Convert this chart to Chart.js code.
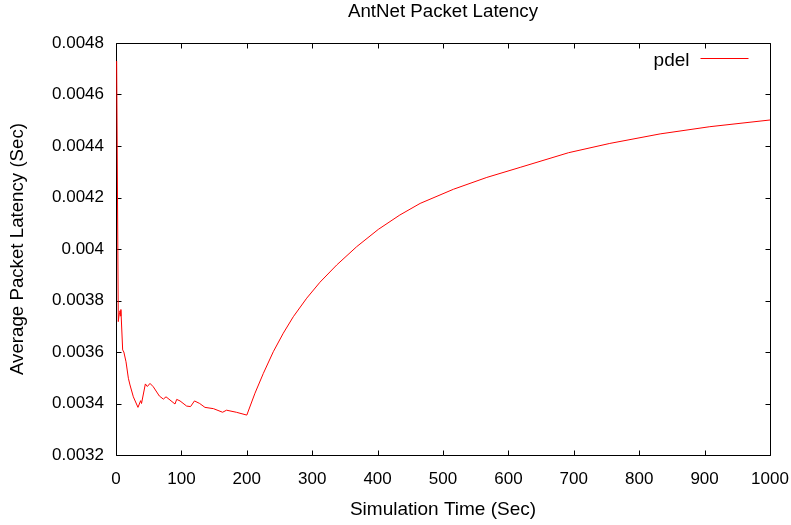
<!DOCTYPE html>
<html>
<head>
<meta charset="utf-8">
<title>AntNet Packet Latency</title>
<script src="https://cdn.jsdelivr.net/npm/chart.js@4/dist/chart.umd.min.js"></script>
<style>
  body { margin: 0; background: #fff; }
  canvas { display: block; }
</style>
</head>
<body>
<canvas id="graficoLatencia" width="791" height="525"></canvas>
<script>
// simulation time (sec) and average latency (sec)
const tempos = [1, 3.5, 5, 6.1, 6.6, 7.5, 10.2, 12, 15.3, 18.9, 21.4, 26.5, 33.6, 37.7, 39, 44.9, 47.9, 52, 57,
    66.3, 72.4, 76.5, 90.2, 92.8, 97.9, 108, 114, 120, 128, 136, 149, 163, 169, 184, 200, 212.5, 225.3, 240.5,
    255.8, 271.1, 291.6, 311.9, 337.5, 368, 401, 434, 465, 516, 567, 618, 692, 755, 832, 908, 1000];
const latencias = [0.00473, 0.003718, 0.00375, 0.00376, 0.00374, 0.003765, 0.003608, 0.0036, 0.003562, 0.003498,
    0.003472, 0.003426, 0.003385, 0.003411, 0.0034, 0.003476, 0.003466, 0.003478, 0.003465, 0.003429, 0.003417,
    0.003426, 0.003398, 0.003416, 0.00341, 0.00339, 0.003388, 0.00341, 0.0034, 0.003385, 0.00338, 0.003366,
    0.003374, 0.003366, 0.003355, 0.00344, 0.003517, 0.003601, 0.003673, 0.003737, 0.003809, 0.003871, 0.003938,
    0.004009, 0.004076, 0.004132, 0.004177, 0.004232, 0.004278, 0.004317, 0.004374, 0.00441, 0.004447, 0.004475,
    0.004501];

const xTicks = [0, 100, 200, 300, 400, 500, 600, 700, 800, 900, 1000];
const yTicks = [0.0032, 0.0034, 0.0036, 0.0038, 0.004, 0.0042, 0.0044, 0.0046, 0.0048];

const fonte = "'Liberation Sans', Arial, Helvetica, sans-serif";
Chart.defaults.color = '#000';
Chart.defaults.font.family = fonte;

// gnuplot style box with inward ticks on all four sides (under the data)
const moldura = {
    id: 'moldura',
    beforeDatasetsDraw(chart) {
        const ctx = chart.ctx;
        const a = chart.chartArea;
        const x = chart.scales.x;
        const y = chart.scales.y;
        const L = Math.round(a.left) + 0.5, R = Math.round(a.right) + 0.5;
        const T = Math.round(a.top) + 0.5, B = Math.round(a.bottom) + 0.5;
        const tam = 5;
        ctx.save();
        ctx.strokeStyle = '#000';
        ctx.lineWidth = 1;
        ctx.beginPath();
        ctx.rect(L, T, R - L, B - T);
        xTicks.forEach(function (v) {
            const px = Math.round(x.getPixelForValue(v)) + 0.5;
            ctx.moveTo(px, B); ctx.lineTo(px, B - tam);
            ctx.moveTo(px, T); ctx.lineTo(px, T + tam);
        });
        yTicks.forEach(function (v) {
            const py = Math.round(y.getPixelForValue(v)) + 0.5;
            ctx.moveTo(L, py); ctx.lineTo(L + tam, py);
            ctx.moveTo(R, py); ctx.lineTo(R - tam, py);
        });
        ctx.stroke();
        ctx.restore();
    },
    // key: label then line sample, top right inside the box
    afterDatasetsDraw(chart) {
        const ctx = chart.ctx;
        const a = chart.chartArea;
        const R = Math.round(a.right) + 0.5, T = Math.round(a.top) + 0.5;
        const ds = chart.data.datasets[0];
        ctx.save();
        ctx.font = '19px ' + fonte;
        ctx.fillStyle = '#000';
        ctx.textAlign = 'right';
        ctx.textBaseline = 'middle';
        ctx.fillText(ds.label, R - 81, T + 17);
        ctx.strokeStyle = ds.borderColor;
        ctx.lineWidth = 1;
        ctx.beginPath();
        ctx.moveTo(R - 70, T + 15);
        ctx.lineTo(R - 22, T + 15);
        ctx.stroke();
        ctx.restore();
    }
};

document.addEventListener("DOMContentLoaded", function () {
    const pontos = tempos.map(function (t, i) { return { x: t, y: latencias[i] }; });

    const ctxLat = document.getElementById("graficoLatencia").getContext("2d");
    new Chart(ctxLat, {
        type: "line",
        data: {
            datasets: [{
                label: "pdel",
                data: pontos,
                xAxisID: 'x',
                borderColor: "#ff0000",
                borderWidth: 1,
                pointRadius: 0,
                tension: 0,
                fill: false
            }]
        },
        options: {
            responsive: false,
            animation: false,
            layout: { padding: { top: 0, left: 0, right: 21, bottom: 0 } },
            plugins: {
                legend: { display: false },
                tooltip: { enabled: false },
                title: { display: false }
            },
            scales: {
                x: {
                    type: 'linear',
                    position: 'bottom',
                    min: 0,
                    max: 1000,
                    afterBuildTicks: function (s) { s.ticks = xTicks.map(function (v) { return { value: v }; }); },
                    afterFit: function (s) {
                        s.height = 70;
                        s.paddingLeft = 0;
                        s.paddingRight = 0;
                    },
                    grid: { display: false, drawTicks: false },
                    border: { display: false },
                    ticks: {
                        font: { size: 17 },
                        padding: 14,
                        maxRotation: 0,
                        callback: function (v) { return String(v); }
                    },
                    title: {
                        display: true,
                        text: "Simulation Time (Sec)",
                        font: { size: 19 },
                        padding: { top: 0, bottom: 4 }
                    }
                },
                // top axis only carries the chart title, centred over the plot box
                topo: {
                    type: 'linear',
                    position: 'top',
                    min: 0,
                    max: 1000,
                    afterFit: function (s) {
                        s.height = 43;
                        s.paddingLeft = 0;
                        s.paddingRight = 0;
                    },
                    grid: { display: false, drawTicks: false },
                    border: { display: false },
                    ticks: { display: false },
                    title: {
                        display: true,
                        text: "AntNet Packet Latency",
                        font: { size: 18.7 },
                        padding: { top: 1, bottom: 0 }
                    }
                },
                y: {
                    type: 'linear',
                    min: 0.0032,
                    max: 0.0048,
                    afterBuildTicks: function (s) { s.ticks = yTicks.map(function (v) { return { value: v }; }); },
                    afterFit: function (s) { s.width = 116; },
                    grid: { display: false, drawTicks: false },
                    border: { display: false },
                    ticks: {
                        font: { size: 17 },
                        padding: 12,
                        callback: function (v) { return String(Number(v.toFixed(4))); }
                    },
                    title: {
                        display: true,
                        text: "Average Packet Latency (Sec)",
                        font: { size: 18.7 },
                        padding: { top: 7, bottom: 0 }
                    }
                }
            }
        },
        plugins: [moldura]
    });
});
</script>
</body>
</html>
